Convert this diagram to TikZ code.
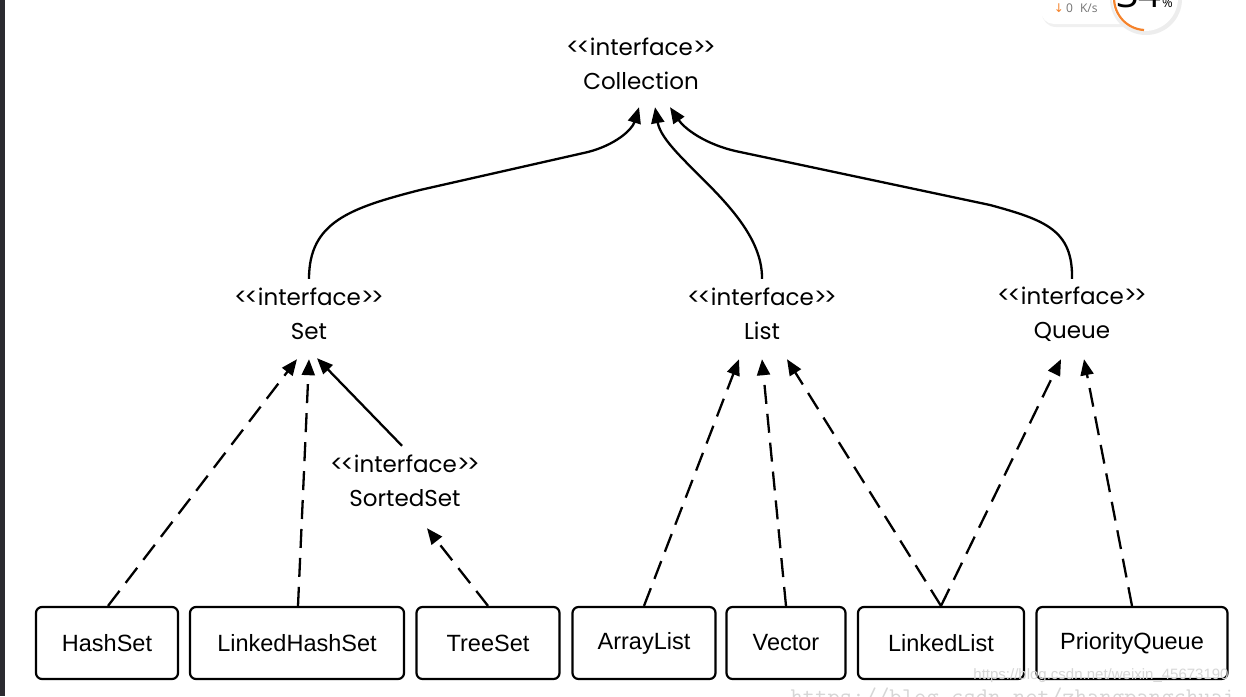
\documentclass[tikz,border=0pt]{standalone}
\usepackage{fontspec}
\setmainfont{Liberation Sans}
\newfontfamily\labfont{Poppins}
\newfontfamily\symfont{DejaVu Sans}
\newfontfamily\wfont{Open Sans}
\usetikzlibrary{arrows.meta,calc}
\newcommand\chl{\raisebox{0.3pt}{\scalebox{1.05}{<}}}
\newcommand\chr{\raisebox{0.3pt}{\scalebox{1.05}{>}}}
\newcommand\ifc{\chl\kern-3pt\chl interface\chr\kern-3pt\chr}
\definecolor{strip}{HTML}{2B2B30}
\definecolor{wmark}{HTML}{D6D6D6}
\definecolor{orng}{HTML}{F5822A}
\tikzset{
  iface/.style={align=center, inner sep=0pt, minimum height=86pt,
    font=\labfont\fontsize{23}{34}\selectfont},
  cls/.style={draw, line width=2.2pt, rounded corners=6pt, minimum height=72pt,
    inner sep=0pt, font=\fontsize{23.5}{28}\selectfont},
  tipa/.style={-{Triangle[length=16pt,width=13pt]}, line width=2.3pt},
  gen/.style={tipa},
  dep/.style={tipa, dash pattern=on 19pt off 10pt},
}
\begin{document}
\begin{tikzpicture}[x=1pt,y=-1pt]
\useasboundingbox (0,0) rectangle (1246,696);
\clip (0,0) rectangle (1246,696);
\fill[white] (0,0) rectangle (1246,696);
\fill[strip] (0,0) rectangle (5,696);

% interfaces
\node[iface] (coll) at (641,64) {\ifc\\Collection};
\node[iface] (set) at (309,314) {\ifc\\Set};
\node[iface] (list) at (762,314) {\ifc\\List};
\node[iface] (queue) at (1072,314) {\ifc\\Queue};
\node[iface] (sorted) at (405,481) {\ifc\\SortedSet};

% classes
\node[cls, minimum width=142pt] (hashset) at (107,643) {HashSet};
\node[cls, minimum width=214pt] (lhs) at (297,643) {LinkedHashSet};
\node[cls, minimum width=143pt] (treeset) at (488,643) {TreeSet};
\node[cls, minimum width=143pt] (arraylist) at (644,643) {ArrayList};
\node[cls, minimum width=119pt] (vector) at (786,643) {Vector};
\node[cls, minimum width=166pt] (linkedlist) at (941,643) {LinkedList};
\node[cls, minimum width=191pt] (pq) at (1132,643) {PriorityQueue};

% generalisations to Collection
\draw[gen] ([yshift=-8pt]set.north) .. controls (309,222) and (350,208) .. (420,190)
  -- (588,152) .. controls (615,145) and (632,130) .. ([xshift=-2pt]coll.south);
\draw[gen] ([yshift=-8pt]list.north) .. controls (763,212) and (664,158) .. ([xshift=14pt]coll.south);
\draw[gen] ([yshift=-8pt]queue.north) .. controls (1073,230) and (1045,220) .. (990,205)
  -- (740,152) .. controls (705,145) and (684,128) .. ([xshift=29pt]coll.south);

% Set
\draw[dep] ([xshift=1pt]hashset.north) -- ([xshift=-12pt,yshift=-2pt]set.south);
\draw[dep] ([xshift=1pt]lhs.north) -- ([xshift=0pt,yshift=-2pt]set.south);
\draw[gen] ([xshift=-3pt,yshift=-8pt]sorted.north) -- ([xshift=8pt,yshift=-1pt]set.south);
\draw[dep] (treeset.north) -- ([xshift=22pt,yshift=-4pt]sorted.south);

% List
\draw[dep] (arraylist.north) -- ([xshift=-23pt,yshift=-2pt]list.south);
\draw[dep] (vector.north) -- ([xshift=0pt,yshift=-2pt]list.south);
\draw[dep] (linkedlist.north) -- ([xshift=25pt,yshift=-2pt]list.south);

% Queue
\draw[dep] (linkedlist.north) -- ([xshift=-11pt,yshift=-2pt]queue.south);
\draw[dep] (pq.north) -- ([xshift=12pt,yshift=-2pt]queue.south);

% screenshot overlay (top right)
\fill[black!6, rounded corners=14pt] (1042,-20) rectangle (1152,27);
\fill[white, rounded corners=13pt] (1041,-20) rectangle (1150,24);
\fill[black!7] (1146,-1) circle[radius=36pt];
\fill[white] (1145,-2) circle[radius=33pt];
\draw[orng, line width=2.2pt] (1114,-2) .. controls (1114,15) and (1127,29) .. (1144,30);
\node[font=\wfont\fontsize{40}{40}\selectfont, inner sep=0pt, anchor=base east] (pct) at (1162,8) {34};
\node[font=\wfont\fontsize{13}{13}\selectfont, inner sep=0pt, anchor=base west] (pcs) at (pct.base east) {\%};
\node[font=\symfont\fontsize{12}{12}\selectfont, text=orng, inner sep=0pt] (dn) at (1059,8) {↓};
\node[font=\wfont\fontsize{12}{12}\selectfont, text=black!55, inner sep=0pt, anchor=west] (rate) at (1066,8.5) {0\hspace{7pt}K/s};

% watermarks
\node[font=\fontsize{15}{15}\selectfont, text=wmark, inner sep=0pt] (wm1) at (1101,676) {https://blog.csdn.net/weixin\_45673190};
\node[font=\ttfamily\fontsize{24}{24}\selectfont, text=wmark, inner sep=0pt, anchor=north] (wm2) at (1013,688) {https://blog.csdn.net/zhangpangchuai};
\end{tikzpicture}
\end{document}
